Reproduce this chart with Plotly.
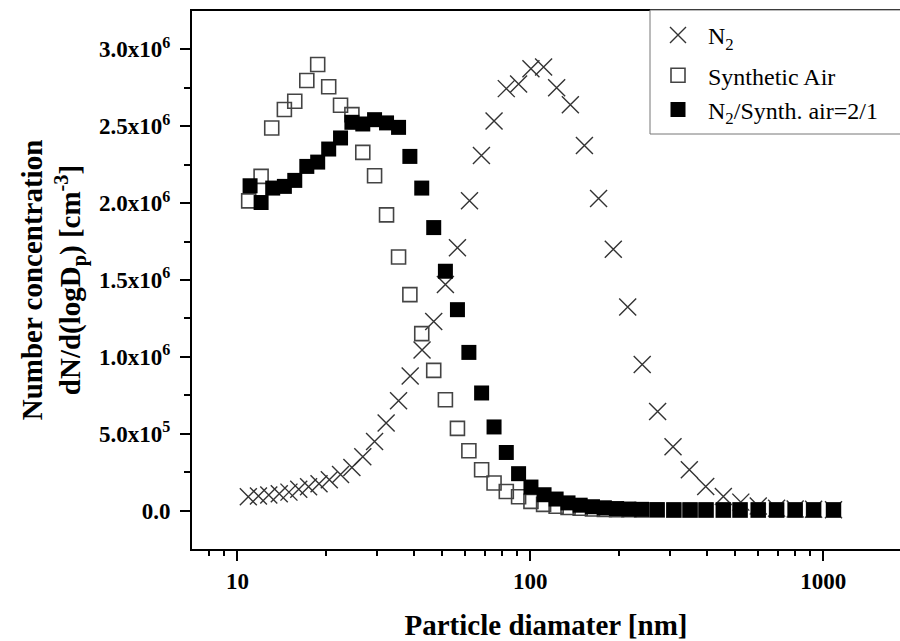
import numpy as np
import plotly.graph_objects as go

# ---- data ----
n2_d = [10.9, 11.8, 12.8, 13.9, 15.0, 16.2, 17.5, 19.0, 20.6, 22.5, 24.6, 26.8, 29.4, 32.2,
        35.5, 38.9, 42.7, 46.8, 51.3, 56.4, 62.0, 68.1, 75.2, 82.8, 91.2, 100.5, 111.0, 123.0,
        137.0, 153.0, 171.0, 192.0, 215.0, 241.0, 272.0, 307.0, 349.0, 397.0, 456.0, 523.0,
        600.0, 693.0, 802.0, 927.0, 1084.0]
n2_v = [0.090e6, 0.095e6, 0.102e6, 0.110e6, 0.120e6, 0.138e6, 0.155e6, 0.175e6, 0.200e6,
        0.235e6, 0.280e6, 0.350e6, 0.450e6, 0.570e6, 0.715e6, 0.875e6, 1.045e6, 1.230e6,
        1.470e6, 1.710e6, 2.015e6, 2.310e6, 2.535e6, 2.745e6, 2.775e6, 2.875e6, 2.885e6,
        2.750e6, 2.640e6, 2.375e6, 2.030e6, 1.700e6, 1.325e6, 0.950e6, 0.645e6, 0.415e6,
        0.265e6, 0.157e6, 0.092e6, 0.055e6, 0.030e6, 0.015e6, 0.010e6, 0.008e6, 0.005e6]

air_d = [10.93, 12.05, 13.1, 14.47, 15.7, 17.26, 18.8, 20.5, 22.5, 24.6, 26.8, 29.4, 32.3,
         35.5, 38.8, 42.6, 46.8, 51.3, 56.4, 61.7, 68.2, 75.2, 82.8, 91.2, 100.5, 111.0,
         122.5, 134.5, 148.0, 163.0, 179.0, 197.0, 217.0, 240.0, 271.0, 309.0, 351.0, 398.0,
         456.0, 520.0, 600.0, 693.0, 802.0, 927.0, 1084.0]
air_v = [2.015e6, 2.174e6, 2.489e6, 2.609e6, 2.663e6, 2.798e6, 2.902e6, 2.757e6, 2.637e6,
         2.576e6, 2.330e6, 2.178e6, 1.924e6, 1.650e6, 1.405e6, 1.151e6, 0.912e6, 0.721e6,
         0.535e6, 0.389e6, 0.266e6, 0.179e6, 0.124e6, 0.090e6, 0.060e6, 0.040e6, 0.028e6,
         0.020e6, 0.015e6, 0.010e6, 0.008e6, 0.006e6, 0.005e6, 0.004e6, 0.004e6, 0.003e6,
         0.003e6, 0.003e6, 0.003e6, 0.003e6, 0.003e6, 0.003e6, 0.003e6, 0.003e6, 0.003e6]

mix_d = [11.05, 12.05, 13.2, 14.47, 15.7, 17.26, 18.8, 20.5, 22.5, 24.6, 26.8, 29.4, 32.3,
         35.5, 38.8, 42.6, 46.8, 51.3, 56.4, 61.7, 68.2, 75.2, 82.8, 91.2, 100.5, 111.4,
         122.5, 134.5, 148.0, 163.0, 179.0, 197.0, 217.0, 240.0, 271.0, 309.0, 351.0, 398.0,
         456.0, 520.0, 600.0, 693.0, 802.0, 927.0, 1084.0]
mix_v = [2.113e6, 2.004e6, 2.098e6, 2.109e6, 2.148e6, 2.239e6, 2.267e6, 2.352e6, 2.424e6,
         2.526e6, 2.515e6, 2.543e6, 2.522e6, 2.493e6, 2.304e6, 2.098e6, 1.841e6, 1.557e6,
         1.307e6, 1.029e6, 0.765e6, 0.544e6, 0.378e6, 0.240e6, 0.153e6, 0.103e6, 0.075e6,
         0.050e6, 0.035e6, 0.025e6, 0.018e6, 0.013e6, 0.010e6, 0.008e6, 0.006e6, 0.005e6,
         0.005e6, 0.005e6, 0.005e6, 0.005e6, 0.005e6, 0.005e6, 0.005e6, 0.005e6, 0.005e6]

series_names = ["N<sub>2</sub>", "Synthetic Air", "N<sub>2</sub>/Synth. air=2/1"]

y_tickvals = [0, 0.5e6, 1.0e6, 1.5e6, 2.0e6, 2.5e6, 3.0e6]
y_ticktext = ["0.0", "5.0x10<sup>5</sup>", "1.0x10<sup>6</sup>", "1.5x10<sup>6</sup>",
              "2.0x10<sup>6</sup>", "2.5x10<sup>6</sup>", "3.0x10<sup>6</sup>"]
y_minor = [0.25e6, 0.75e6, 1.25e6, 1.75e6, 2.25e6, 2.75e6]
x_tickvals = [10, 100, 1000]
x_ticktext = ["10", "100", "1000"]
x_minor = [8, 9, 20, 30, 40, 50, 60, 70, 80, 90, 200, 300, 400, 500, 600, 700, 800, 900]

SERIF = "Liberation Serif"
L, T, B = 192, 11, 92
W, H = 900, 641
PW, PH = W - L, H - T - B


def px_x(p):
    return (p - L) / PW


def px_y(p):
    return (H - B - p) / PH


fig = go.Figure()
fig.add_trace(go.Scatter(
    x=n2_d, y=n2_v, mode="markers", name=series_names[0], legendgroup="g1",
    marker=dict(symbol="x-thin", size=17, color="#333",
                line=dict(width=1.4, color="#333"))))
fig.add_trace(go.Scatter(
    x=air_d, y=air_v, mode="markers", name=series_names[1], legendgroup="g2",
    marker=dict(symbol="square-open", size=14, color="#444",
                line=dict(width=1.6, color="#444"))))
fig.add_trace(go.Scatter(
    x=mix_d, y=mix_v, mode="markers", name=series_names[2], legendgroup="g2",
    marker=dict(symbol="square", size=15, color="black",
                line=dict(width=0))))

# legend frame (runs off the right edge like the reference)
fig.add_shape(type="rect", xref="paper", yref="paper",
              x0=px_x(650), x1=px_x(960), y0=px_y(134), y1=px_y(10),
              line=dict(color="#777", width=1), fillcolor="white", layer="above")

fig.update_layout(
    width=W, height=H,
    margin=dict(l=L, r=0, t=T, b=B),
    paper_bgcolor="white", plot_bgcolor="white",
    font=dict(family=SERIF, color="black"),
    showlegend=True,
    legend=dict(x=px_x(648), y=px_y(13), xanchor="left", yanchor="top",
                bgcolor="rgba(0,0,0,0)", borderwidth=0,
                font=dict(family=SERIF, size=24, color="black"),
                itemwidth=50, tracegroupgap=6, traceorder="grouped"),
    xaxis=dict(
        type="log", range=[np.log10(7), 3.262],
        showline=True, linewidth=2, linecolor="black", mirror=True,
        ticks="outside", ticklen=10, tickwidth=1.5, tickcolor="black",
        tickmode="array", tickvals=x_tickvals, ticktext=x_ticktext,
        tickfont=dict(family=SERIF, size=23, color="black", weight="bold"),
        minor=dict(tickmode="array", tickvals=x_minor, ticks="outside",
                   ticklen=5, tickwidth=1.5, tickcolor="black", showgrid=False),
        showgrid=False, zeroline=False,
        title=dict(text="Particle diamater [nm]", standoff=22,
                   font=dict(family=SERIF, size=29, color="black", weight="bold")),
    ),
    yaxis=dict(
        range=[-0.25e6, 3.25e6],
        showline=True, linewidth=2, linecolor="black", mirror=False,
        ticks="outside", ticklen=10, tickwidth=1.5, tickcolor="black",
        tickmode="array", tickvals=y_tickvals, ticktext=y_ticktext,
        ticklabelstandoff=5,
        tickfont=dict(family=SERIF, size=23, color="black", weight="bold"),
        minor=dict(tickmode="array", tickvals=y_minor, ticks="outside",
                   ticklen=6, tickwidth=1.5, tickcolor="black", showgrid=False),
        showgrid=False, zeroline=False,
        title=dict(text="Number concentration<br>dN/d(logD<sub>p</sub>) [cm<sup>-3</sup>]",
                   standoff=10,
                   font=dict(family=SERIF, size=29, color="black", weight="bold")),
    ),
)

fig.write_html("out.html")
